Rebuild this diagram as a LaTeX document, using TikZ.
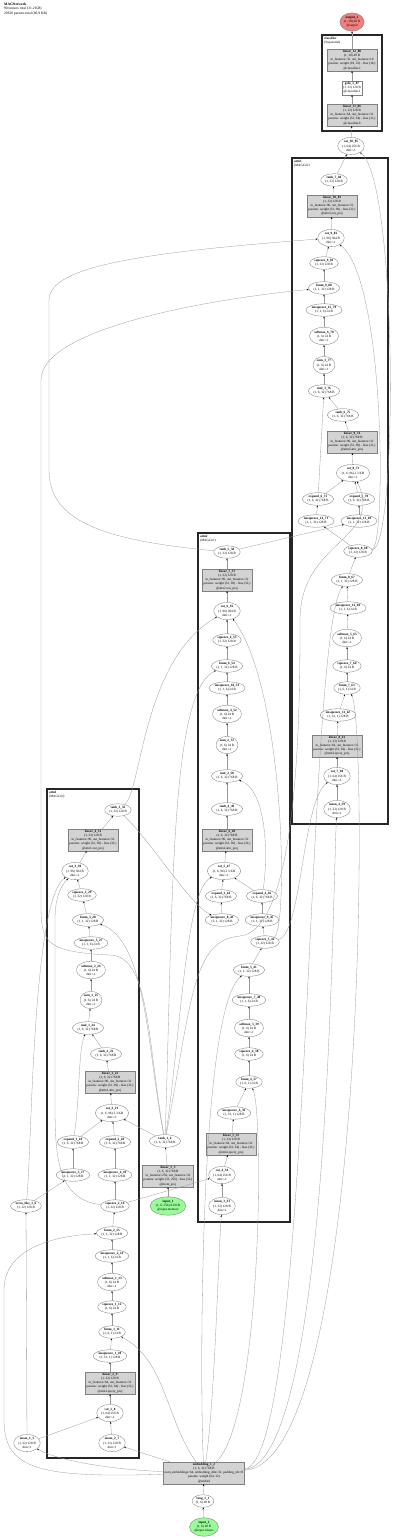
\documentclass[tikz,border=0pt]{standalone}
\usepackage{fontspec}
\setmainfont{Liberation Serif}
\usetikzlibrary{shapes.geometric,arrows.meta}
\definecolor{boxgray}{HTML}{D3D3D3}
\definecolor{ingreen}{HTML}{98FB98}
\definecolor{outred}{HTML}{F08080}
\newcommand{\tinyfont}{\fontsize{3.3}{4.1}\selectfont}
\newcommand{\hdfont}{\fontsize{3.6}{4.2}\selectfont}

\begin{document}
\begin{tikzpicture}[x=1pt,y=-1pt,
  op/.style={ellipse, draw=black!55, line width=0.3pt, inner xsep=0.6pt, inner ysep=0.9pt, align=center, font=\tinyfont},
  lin/.style={rectangle, draw=black!50, fill=boxgray, line width=0.3pt, inner sep=1.2pt, align=center, font=\tinyfont},
  wbox/.style={lin, fill=white},
  inp/.style={op, fill=ingreen},
  outp/.style={op, fill=outred},
  clus/.style={draw=black!85, line width=1.3pt},
  clab/.style={anchor=north west, align=left, inner sep=0pt, font=\tinyfont},
  conn/.style={draw=black!40, line width=0.3pt, -{Stealth[length=2pt,width=1.5pt,black]}}
]
\useasboundingbox (0,0) rectangle (400,1539);

% header
\node[anchor=north west, align=left, inner sep=0pt, font=\hdfont] (title) at (4,3)
  {\textbf{MAGNetwork}\\90 tensors total (31.2 KB)\\20610 params total (80.9 KB)};

% cluster frames
\draw[clus] (322,35) rectangle (382,131);
\node[clab] (lab_cls) at (324,37) {\textbf{classifier}\\(Sequential)};
\draw[clus] (292,158) rectangle (388,824);
\node[clab] (lab_a3) at (294,160) {\textbf{attn3}\\(MAGCell)};
\draw[clus] (198,533) rectangle (290,1222);
\node[clab] (lab_a2) at (200,535) {\textbf{attn2}\\(MAGCell)};
\draw[clus] (47,789) rectangle (139,1458);
\node[clab] (lab_a1) at (49,791) {\textbf{attn1}\\(MAGCell)};

% inputs and shared tensors
\node[inp] (input_2) at (204,1527) {\textbf{input\_2}\\(1, 6) 48 B\\@input.tokens};
\node[op] (long_1_1) at (203,1501) {\textbf{long\_1\_1}\\(1, 6) 48 B};
\node[lin] (embedding_1_2) at (204,1473) {\textbf{embedding\_1\_2}\\(1, 6, 32) 768 B\\num\_embeddings=64, embedding\_dim=32, padding\_idx=0\\params: weight (64, 32)\\@embed};
\node[inp] (input_1) at (168,1206) {\textbf{input\_1}\\(1, 6, 256) 6.0 KB\\@input.memory};
\node[lin] (linear_1_3) at (168,1176) {\textbf{linear\_1\_3}\\(1, 6, 32) 768 B\\in\_features=256, out\_features=32\\params: weight (32, 256) - bias (32,)\\@mem\_proj};
\node[op] (tanh_1_4) at (165,1141) {\textbf{tanh\_1\_4}\\(1, 6, 32) 768 B};
\node[op] (mean_1_5) at (27,1443) {\textbf{mean\_1\_5}\\(1, 32) 128 B\\dim=1};
\node[op] (zeros_like_1_6) at (26,1206) {\textbf{zeros\_like\_1\_6}\\(1, 32) 128 B};

% attn1
\node[op] (mean_2_7) at (112,1443) {\textbf{mean\_2\_7}\\(1, 32) 128 B\\dim=1};
\node[op] (cat_1_8) at (110,1413) {\textbf{cat\_1\_8}\\(1, 64) 256 B\\dim=-1};
\node[lin] (linear_2_9) at (110,1383) {\textbf{linear\_2\_9}\\(1, 32) 128 B\\in\_features=64, out\_features=32\\params: weight (32, 64) - bias (32,)\\@attn1.query\_proj};
\node[op] (unsqueeze_1_10) at (110,1356) {\textbf{unsqueeze\_1\_10}\\(1, 32, 1) 128 B};
\node[op] (bmm_1_11) at (112,1332) {\textbf{bmm\_1\_11}\\(1, 6, 1) 24 B};
\node[op] (squeeze_1_12) at (112,1307) {\textbf{squeeze\_1\_12}\\(1, 6) 24 B};
\node[op] (softmax_1_13) at (112,1282) {\textbf{softmax\_1\_13}\\(1, 6) 24 B\\dim=-1};
\node[op] (unsqueeze_2_14) at (112,1256) {\textbf{unsqueeze\_2\_14}\\(1, 1, 6) 24 B};
\node[op] (bmm_2_15) at (112,1233) {\textbf{bmm\_2\_15}\\(1, 1, 32) 128 B};
\node[op] (squeeze_2_16) at (115,1206) {\textbf{squeeze\_2\_16}\\(1, 32) 128 B};
\node[op] (unsqueeze_3_17) at (73,1175) {\textbf{unsqueeze\_3\_17}\\(1, 1, 32) 128 B};
\node[op] (unsqueeze_4_19) at (115,1175) {\textbf{unsqueeze\_4\_19}\\(1, 1, 32) 128 B};
\node[op] (expand_1_18) at (73,1142) {\textbf{expand\_1\_18}\\(1, 6, 32) 768 B};
\node[op] (expand_2_20) at (115,1142) {\textbf{expand\_2\_20}\\(1, 6, 32) 768 B};
\node[op] (cat_2_21) at (112,1113) {\textbf{cat\_2\_21}\\(1, 6, 96) 2.3 KB\\dim=-1};
\node[lin] (linear_3_22) at (110,1082) {\textbf{linear\_3\_22}\\(1, 6, 32) 768 B\\in\_features=96, out\_features=32\\params: weight (32, 96) - bias (32,)\\@attn1.attn\_proj};
\node[op] (tanh_2_23) at (106,1054) {\textbf{tanh\_2\_23}\\(1, 6, 32) 768 B};
\node[op] (mul_1_24) at (88,1028) {\textbf{mul\_1\_24}\\(1, 6, 32) 768 B};
\node[op] (sum_1_25) at (91,1000) {\textbf{sum\_1\_25}\\(1, 6) 24 B\\dim=-1};
\node[op] (softmax_2_26) at (91,970) {\textbf{softmax\_2\_26}\\(1, 6) 24 B\\dim=-1};
\node[op] (unsqueeze_5_27) at (91,943) {\textbf{unsqueeze\_5\_27}\\(1, 1, 6) 24 B};
\node[op] (bmm_3_28) at (88,920) {\textbf{bmm\_3\_28}\\(1, 1, 32) 128 B};
\node[op] (squeeze_3_29) at (82,895) {\textbf{squeeze\_3\_29}\\(1, 32) 128 B};
\node[op] (cat_3_30) at (75,871) {\textbf{cat\_3\_30}\\(1, 96) 384 B\\dim=-1};
\node[lin] (linear_4_31) at (93,840) {\textbf{linear\_4\_31}\\(1, 32) 128 B\\in\_features=96, out\_features=32\\params: weight (32, 96) - bias (32,)\\@attn1.out\_proj};
\node[op] (tanh_3_32) at (118,810) {\textbf{tanh\_3\_32}\\(1, 32) 128 B};

% attn2
\node[op] (mean_3_33) at (222,1206) {\textbf{mean\_3\_33}\\(1, 32) 128 B\\dim=1};
\node[op] (cat_4_34) at (222,1175) {\textbf{cat\_4\_34}\\(1, 64) 256 B\\dim=-1};
\node[lin] (linear_5_35) at (231,1144) {\textbf{linear\_5\_35}\\(1, 32) 128 B\\in\_features=64, out\_features=32\\params: weight (32, 64) - bias (32,)\\@attn2.query\_proj};
\node[op] (unsqueeze_6_36) at (234,1113) {\textbf{unsqueeze\_6\_36}\\(1, 32, 1) 128 B};
\node[op] (bmm_4_37) at (249,1082) {\textbf{bmm\_4\_37}\\(1, 6, 1) 24 B};
\node[op] (squeeze_4_38) at (249,1054) {\textbf{squeeze\_4\_38}\\(1, 6) 24 B};
\node[op] (softmax_3_39) at (249,1028) {\textbf{softmax\_3\_39}\\(1, 6) 24 B\\dim=-1};
\node[op] (unsqueeze_7_40) at (249,1000) {\textbf{unsqueeze\_7\_40}\\(1, 1, 6) 24 B};
\node[op] (bmm_5_41) at (249,970) {\textbf{bmm\_5\_41}\\(1, 1, 32) 128 B};
\node[op] (squeeze_5_42) at (265,942) {\textbf{squeeze\_5\_42}\\(1, 32) 128 B};
\node[op] (unsqueeze_8_43) at (222,920) {\textbf{unsqueeze\_8\_43}\\(1, 1, 32) 128 B};
\node[op] (unsqueeze_9_45) at (262,920) {\textbf{unsqueeze\_9\_45}\\(1, 1, 32) 128 B};
\node[op] (expand_3_44) at (221,896) {\textbf{expand\_3\_44}\\(1, 6, 32) 768 B};
\node[op] (expand_4_46) at (262,896) {\textbf{expand\_4\_46}\\(1, 6, 32) 768 B};
\node[op] (cat_5_47) at (224,871) {\textbf{cat\_5\_47}\\(1, 6, 96) 2.3 KB\\dim=-1};
\node[lin] (linear_6_48) at (227,840) {\textbf{linear\_6\_48}\\(1, 6, 32) 768 B\\in\_features=96, out\_features=32\\params: weight (32, 96) - bias (32,)\\@attn2.attn\_proj};
\node[op] (tanh_4_49) at (227,809) {\textbf{tanh\_4\_49}\\(1, 6, 32) 768 B};
\node[op] (mul_2_50) at (227,776) {\textbf{mul\_2\_50}\\(1, 6, 32) 768 B};
\node[op] (sum_2_51) at (227,745) {\textbf{sum\_2\_51}\\(1, 6) 24 B\\dim=-1};
\node[op] (softmax_4_52) at (227,714) {\textbf{softmax\_4\_52}\\(1, 6) 24 B\\dim=-1};
\node[op] (unsqueeze_10_53) at (227,688) {\textbf{unsqueeze\_10\_53}\\(1, 1, 6) 24 B};
\node[op] (bmm_6_54) at (227,666) {\textbf{bmm\_6\_54}\\(1, 1, 32) 128 B};
\node[op] (squeeze_6_55) at (227,640) {\textbf{squeeze\_6\_55}\\(1, 32) 128 B};
\node[op] (cat_6_56) at (227,611) {\textbf{cat\_6\_56}\\(1, 96) 384 B\\dim=-1};
\node[lin] (linear_7_57) at (227,580) {\textbf{linear\_7\_57}\\(1, 32) 128 B\\in\_features=96, out\_features=32\\params: weight (32, 96) - bias (32,)\\@attn2.out\_proj};
\node[op] (tanh_5_58) at (227,552) {\textbf{tanh\_5\_58}\\(1, 32) 128 B};

% attn3
\node[op] (mean_4_59) at (337,809) {\textbf{mean\_4\_59}\\(1, 32) 128 B\\dim=1};
\node[op] (cat_7_60) at (337,776) {\textbf{cat\_7\_60}\\(1, 64) 256 B\\dim=-1};
\node[lin] (linear_8_61) at (337,746) {\textbf{linear\_8\_61}\\(1, 32) 128 B\\in\_features=64, out\_features=32\\params: weight (32, 64) - bias (32,)\\@attn3.query\_proj};
\node[op] (unsqueeze_11_62) at (338,715) {\textbf{unsqueeze\_11\_62}\\(1, 32, 1) 128 B};
\node[op] (bmm_7_63) at (347,688) {\textbf{bmm\_7\_63}\\(1, 6, 1) 24 B};
\node[op] (squeeze_7_64) at (347,666) {\textbf{squeeze\_7\_64}\\(1, 6) 24 B};
\node[op] (softmax_5_65) at (347,638) {\textbf{softmax\_5\_65}\\(1, 6) 24 B\\dim=-1};
\node[op] (unsqueeze_12_66) at (348,608) {\textbf{unsqueeze\_12\_66}\\(1, 1, 6) 24 B};
\node[op] (bmm_8_67) at (347,580) {\textbf{bmm\_8\_67}\\(1, 1, 32) 128 B};
\node[op] (squeeze_8_68) at (358,551) {\textbf{squeeze\_8\_68}\\(1, 32) 128 B};
\node[op] (unsqueeze_14_71) at (316,521) {\textbf{unsqueeze\_14\_71}\\(1, 1, 32) 128 B};
\node[op] (unsqueeze_13_69) at (359,521) {\textbf{unsqueeze\_13\_69}\\(1, 1, 32) 128 B};
\node[op] (expand_6_72) at (318,499) {\textbf{expand\_6\_72}\\(1, 6, 32) 768 B};
\node[op] (expand_5_70) at (359,499) {\textbf{expand\_5\_70}\\(1, 6, 32) 768 B};
\node[op] (cat_8_73) at (353,473) {\textbf{cat\_8\_73}\\(1, 6, 96) 2.3 KB\\dim=-1};
\node[lin] (linear_9_74) at (352,442) {\textbf{linear\_9\_74}\\(1, 6, 32) 768 B\\in\_features=96, out\_features=32\\params: weight (32, 96) - bias (32,)\\@attn3.attn\_proj};
\node[op] (tanh_6_75) at (343,415) {\textbf{tanh\_6\_75}\\(1, 6, 32) 768 B};
\node[op] (mul_3_76) at (324,391) {\textbf{mul\_3\_76}\\(1, 6, 32) 768 B};
\node[op] (sum_3_77) at (324,365) {\textbf{sum\_3\_77}\\(1, 6) 24 B\\dim=-1};
\node[op] (softmax_6_78) at (324,336) {\textbf{softmax\_6\_78}\\(1, 6) 24 B\\dim=-1};
\node[op] (unsqueeze_15_79) at (324,310) {\textbf{unsqueeze\_15\_79}\\(1, 1, 6) 24 B};
\node[op] (bmm_9_80) at (324,288) {\textbf{bmm\_9\_80}\\(1, 1, 32) 128 B};
\node[op] (squeeze_9_81) at (324,263) {\textbf{squeeze\_9\_81}\\(1, 32) 128 B};
\node[op] (cat_9_82) at (331,238) {\textbf{cat\_9\_82}\\(1, 96) 384 B\\dim=-1};
\node[lin] (linear_10_83) at (332,206) {\textbf{linear\_10\_83}\\(1, 32) 128 B\\in\_features=96, out\_features=32\\params: weight (32, 96) - bias (32,)\\@attn3.out\_proj};
\node[op] (tanh_7_84) at (334,180) {\textbf{tanh\_7\_84}\\(1, 32) 128 B};

% classifier and output
\node[op] (cat_10_85) at (351,146) {\textbf{cat\_10\_85}\\(1, 64) 256 B\\dim=-1};
\node[lin] (linear_11_86) at (352,115) {\textbf{linear\_11\_86}\\(1, 32) 128 B\\in\_features=64, out\_features=32\\params: weight (32, 64) - bias (32,)\\@classifier.0};
\node[wbox] (gelu_1_87) at (352,88) {\textbf{gelu\_1\_87}\\(1, 32) 128 B\\@classifier.1};
\node[lin] (linear_12_88) at (352,60) {\textbf{linear\_12\_88}\\(1, 10) 40 B\\in\_features=32, out\_features=10\\params: weight (10, 32) - bias (10,)\\@classifier.2};
\node[outp] (output_1) at (352,22) {\textbf{output\_1}\\(1, 10) 40 B\\@output};

% input chains
\draw[conn] (input_2) -- (long_1_1);
\draw[conn] (long_1_1) -- (embedding_1_2);
\draw[conn] (input_1) -- (linear_1_3);
\draw[conn] (linear_1_3) -- (tanh_1_4);

% embedding fan-out
\draw[conn] (embedding_1_2) .. controls (120,1470) and (60,1462) .. (mean_1_5);
\draw[conn] (embedding_1_2) -- (mean_2_7);
\draw[conn] (embedding_1_2) .. controls (166,1420) and (166,1360) .. (bmm_1_11);
\draw[conn] (embedding_1_2) .. controls (40,1478) and (4,1470) .. (4,1420) -- (4,1290) .. controls (4,1250) and (50,1236) .. (bmm_2_15);
\draw[conn] (embedding_1_2) .. controls (215,1400) and (218,1260) .. (mean_3_33);
\draw[conn] (embedding_1_2) .. controls (262,1420) and (264,1110) .. (bmm_4_37);
\draw[conn] (embedding_1_2) .. controls (200,1400) and (198,1010) .. (bmm_5_41);
\draw[conn] (embedding_1_2) .. controls (330,1462) and (332,900) .. (mean_4_59);
\draw[conn] (embedding_1_2) .. controls (368,1462) and (368,720) .. (bmm_7_63);
\draw[conn] (embedding_1_2) .. controls (312,1462) and (305,640) .. (bmm_8_67);

% memory fan-out
\draw[conn] (tanh_1_4) -- (cat_2_21);
\draw[conn] (tanh_1_4) .. controls (147,1050) and (147,940) .. (bmm_3_28);
\draw[conn] (tanh_1_4) .. controls (182,1020) and (186,890) .. (cat_5_47);
\draw[conn] (tanh_1_4) .. controls (173,900) and (170,690) .. (bmm_6_54);
\draw[conn] (tanh_1_4) .. controls (192,1000) and (192,940) .. (240,936) .. controls (300,930) and (300,700) .. (300,620) .. controls (300,540) and (385,540) .. (cat_8_73);
\draw[conn] (tanh_1_4) .. controls (147,1040) and (150,956) .. (110,955) .. controls (41,952) and (41,940) .. (41,900) -- (41,380) .. controls (41,330) and (200,300) .. (bmm_9_80);

% initial state
\draw[conn] (mean_1_5) -- (zeros_like_1_6);
\draw[conn] (mean_1_5) -- (cat_1_8);
\draw[conn] (zeros_like_1_6) -- (unsqueeze_3_17);
\draw[conn] (zeros_like_1_6) .. controls (32,1150) and (32,900) .. (cat_3_30);

% attn1 edges
\draw[conn] (mean_2_7) -- (cat_1_8);
\draw[conn] (cat_1_8) -- (linear_2_9);
\draw[conn] (linear_2_9) -- (unsqueeze_1_10);
\draw[conn] (unsqueeze_1_10) -- (bmm_1_11);
\draw[conn] (bmm_1_11) -- (squeeze_1_12);
\draw[conn] (squeeze_1_12) -- (softmax_1_13);
\draw[conn] (softmax_1_13) -- (unsqueeze_2_14);
\draw[conn] (unsqueeze_2_14) -- (bmm_2_15);
\draw[conn] (bmm_2_15) -- (squeeze_2_16);
\draw[conn] (squeeze_2_16) -- (unsqueeze_4_19);
\draw[conn] (unsqueeze_4_19) -- (expand_2_20);
\draw[conn] (unsqueeze_3_17) -- (expand_1_18);
\draw[conn] (expand_1_18) -- (cat_2_21);
\draw[conn] (expand_2_20) -- (cat_2_21);
\draw[conn] (expand_1_18) .. controls (80,1100) and (78,1050) .. (mul_1_24);
\draw[conn] (cat_2_21) -- (linear_3_22);
\draw[conn] (linear_3_22) -- (tanh_2_23);
\draw[conn] (tanh_2_23) -- (mul_1_24);
\draw[conn] (mul_1_24) -- (sum_1_25);
\draw[conn] (sum_1_25) -- (softmax_2_26);
\draw[conn] (softmax_2_26) -- (unsqueeze_5_27);
\draw[conn] (unsqueeze_5_27) -- (bmm_3_28);
\draw[conn] (bmm_3_28) -- (squeeze_3_29);
\draw[conn] (squeeze_3_29) -- (cat_3_30);
\draw[conn] (squeeze_2_16) .. controls (55,1200) and (55,1150) .. (55,1100) -- (55,920) .. controls (55,895) and (62,885) .. (cat_3_30);
\draw[conn] (squeeze_2_16) -- (cat_4_34);
\draw[conn] (cat_3_30) -- (linear_4_31);
\draw[conn] (linear_4_31) -- (tanh_3_32);

% attn2 edges
\draw[conn] (mean_3_33) -- (cat_4_34);
\draw[conn] (cat_4_34) -- (linear_5_35);
\draw[conn] (linear_5_35) -- (unsqueeze_6_36);
\draw[conn] (unsqueeze_6_36) -- (bmm_4_37);
\draw[conn] (bmm_4_37) -- (squeeze_4_38);
\draw[conn] (squeeze_4_38) -- (softmax_3_39);
\draw[conn] (softmax_3_39) -- (unsqueeze_7_40);
\draw[conn] (unsqueeze_7_40) -- (bmm_5_41);
\draw[conn] (bmm_5_41) -- (squeeze_5_42);
\draw[conn] (squeeze_5_42) -- (unsqueeze_9_45);
\draw[conn] (unsqueeze_9_45) -- (expand_4_46);
\draw[conn] (tanh_3_32) .. controls (150,840) and (190,905) .. (unsqueeze_8_43);
\draw[conn] (unsqueeze_8_43) -- (expand_3_44);
\draw[conn] (expand_3_44) -- (cat_5_47);
\draw[conn] (expand_4_46) -- (cat_5_47);
\draw[conn] (expand_4_46) .. controls (268,860) and (268,790) .. (mul_2_50);
\draw[conn] (cat_5_47) -- (linear_6_48);
\draw[conn] (linear_6_48) -- (tanh_4_49);
\draw[conn] (tanh_4_49) -- (mul_2_50);
\draw[conn] (mul_2_50) -- (sum_2_51);
\draw[conn] (sum_2_51) -- (softmax_4_52);
\draw[conn] (softmax_4_52) -- (unsqueeze_10_53);
\draw[conn] (unsqueeze_10_53) -- (bmm_6_54);
\draw[conn] (bmm_6_54) -- (squeeze_6_55);
\draw[conn] (squeeze_6_55) -- (cat_6_56);
\draw[conn] (tanh_3_32) .. controls (142,790) and (142,660) .. (cat_6_56);
\draw[conn] (squeeze_5_42) .. controls (288,930) and (286,690) .. (cat_6_56);
\draw[conn] (cat_6_56) -- (linear_7_57);
\draw[conn] (linear_7_57) -- (tanh_5_58);

% attn3 edges
\draw[conn] (mean_4_59) -- (cat_7_60);
\draw[conn] (squeeze_5_42) .. controls (302,935) and (302,800) .. (cat_7_60);
\draw[conn] (cat_7_60) -- (linear_8_61);
\draw[conn] (linear_8_61) -- (unsqueeze_11_62);
\draw[conn] (unsqueeze_11_62) -- (bmm_7_63);
\draw[conn] (bmm_7_63) -- (squeeze_7_64);
\draw[conn] (squeeze_7_64) -- (softmax_5_65);
\draw[conn] (softmax_5_65) -- (unsqueeze_12_66);
\draw[conn] (unsqueeze_12_66) -- (bmm_8_67);
\draw[conn] (bmm_8_67) -- (squeeze_8_68);
\draw[conn] (tanh_5_58) -- (unsqueeze_13_69);
\draw[conn] (squeeze_8_68) -- (unsqueeze_14_71);
\draw[conn] (unsqueeze_13_69) -- (expand_5_70);
\draw[conn] (unsqueeze_14_71) -- (expand_6_72);
\draw[conn] (expand_6_72) -- (cat_8_73);
\draw[conn] (expand_5_70) -- (cat_8_73);
\draw[conn] (expand_6_72) -- (mul_3_76);
\draw[conn] (cat_8_73) -- (linear_9_74);
\draw[conn] (linear_9_74) -- (tanh_6_75);
\draw[conn] (tanh_6_75) -- (mul_3_76);
\draw[conn] (mul_3_76) -- (sum_3_77);
\draw[conn] (sum_3_77) -- (softmax_6_78);
\draw[conn] (softmax_6_78) -- (unsqueeze_15_79);
\draw[conn] (unsqueeze_15_79) -- (bmm_9_80);
\draw[conn] (bmm_9_80) -- (squeeze_9_81);
\draw[conn] (squeeze_9_81) -- (cat_9_82);
\draw[conn] (tanh_5_58) .. controls (100,540) and (49,520) .. (49,470) -- (49,300) .. controls (49,265) and (150,252) .. (cat_9_82);
\draw[conn] (squeeze_8_68) .. controls (386,548) and (386,280) .. (cat_9_82);
\draw[conn] (cat_9_82) -- (linear_10_83);
\draw[conn] (linear_10_83) -- (tanh_7_84);

% classifier
\draw[conn] (tanh_7_84) -- (cat_10_85);
\draw[conn] (squeeze_8_68) .. controls (398,548) and (398,180) .. (cat_10_85);
\draw[conn] (cat_10_85) -- (linear_11_86);
\draw[conn] (linear_11_86) -- (gelu_1_87);
\draw[conn] (gelu_1_87) -- (linear_12_88);
\draw[conn] (linear_12_88) -- (output_1);
\end{tikzpicture}
\end{document}
